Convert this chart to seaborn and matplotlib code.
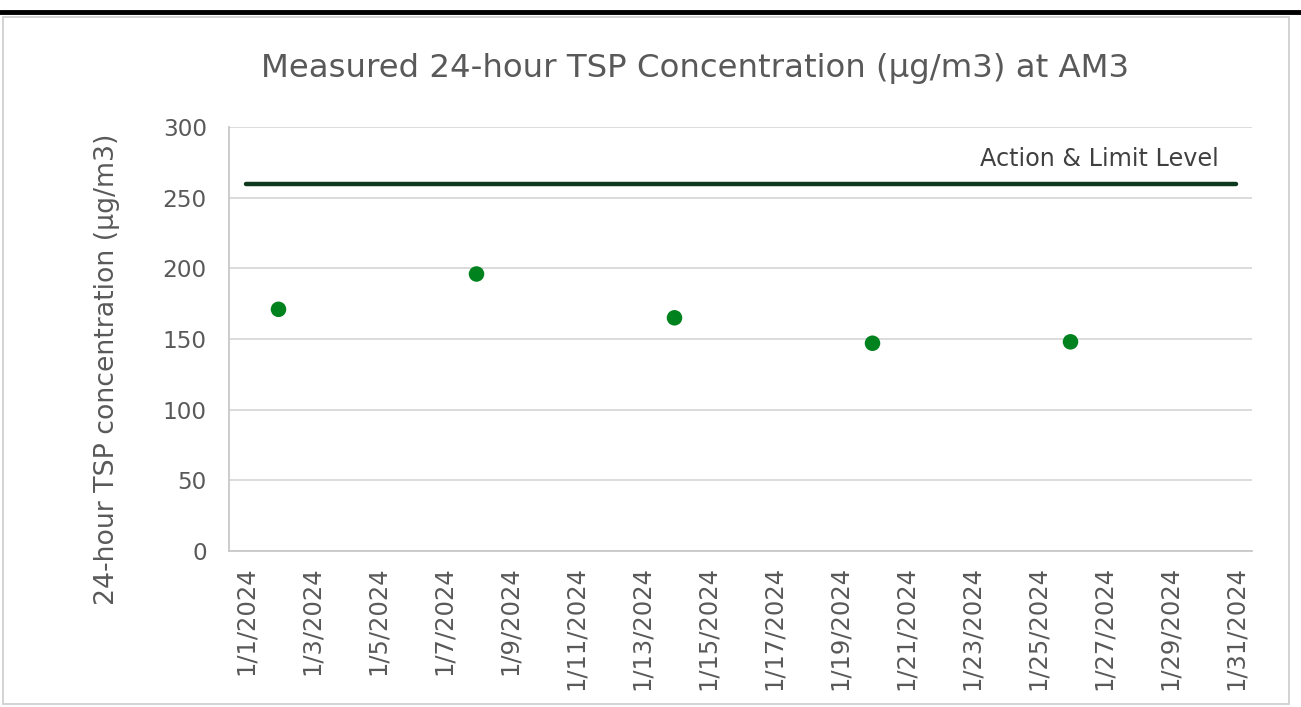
import matplotlib
matplotlib.use("Agg")
import matplotlib.pyplot as plt
from matplotlib.lines import Line2D
from matplotlib.patches import Rectangle
import seaborn as sns
import pandas as pd

# ---- data ----
sample_dates = ["2024-01-02", "2024-01-08", "2024-01-14", "2024-01-20", "2024-01-26"]
tsp_values = [171, 196, 165, 147, 148]
limit_dates = ["2024-01-01", "2024-01-31"]
limit_values = [260, 260]
limit_label = "Action & Limit Level"
title = "Measured 24-hour TSP Concentration (µg/m3) at AM3"
y_label = "24-hour TSP concentration (µg/m3)"
y_ticks = [0, 50, 100, 150, 200, 250, 300]
x_tick_dates = ["2024-01-01", "2024-01-03", "2024-01-05", "2024-01-07", "2024-01-09",
                "2024-01-11", "2024-01-13", "2024-01-15", "2024-01-17", "2024-01-19",
                "2024-01-21", "2024-01-23", "2024-01-25", "2024-01-27", "2024-01-29",
                "2024-01-31"]
x_tick_labels = ["1/1/2024", "1/3/2024", "1/5/2024", "1/7/2024", "1/9/2024",
                 "1/11/2024", "1/13/2024", "1/15/2024", "1/17/2024", "1/19/2024",
                 "1/21/2024", "1/23/2024", "1/25/2024", "1/27/2024", "1/29/2024",
                 "1/31/2024"]

df = pd.DataFrame({"date": pd.to_datetime(sample_dates), "tsp": tsp_values})
df_lim = pd.DataFrame({"date": pd.to_datetime(limit_dates), "lim": limit_values})

sns.set_theme(style="white")
plt.rcParams["font.family"] = ["DejaVu Sans"]
text_c = "#595959"

fig = plt.figure(figsize=(13.01, 7.07), dpi=100)
ax = fig.add_axes([229 / 1301, 1 - 551 / 707, 1023 / 1301, 424 / 707])

sns.lineplot(data=df_lim, x="date", y="lim", ax=ax, color="#0d3a1c", linewidth=3.2,
             solid_capstyle="round", zorder=3)
sns.scatterplot(data=df, x="date", y="tsp", ax=ax, color="#00821e", s=125,
                edgecolor="none", zorder=4)

ax.set_xlim(pd.Timestamp("2023-12-31 12:00"), pd.Timestamp("2024-01-31 12:00"))
ax.set_ylim(0, 300)
ax.set_yticks(y_ticks)
ax.set_xticks(pd.to_datetime(x_tick_dates))
ax.set_xticklabels(x_tick_labels, rotation=90)
ax.yaxis.grid(True, color="#d9d9d9", linewidth=1.3)
ax.set_axisbelow(True)
for s in ["top", "right"]:
    ax.spines[s].set_visible(False)
for s in ["left", "bottom"]:
    ax.spines[s].set_color("#c8c8c8")
    ax.spines[s].set_linewidth(1.3)
ax.tick_params(axis="both", length=0, colors=text_c)
ax.tick_params(axis="x", pad=11, labelsize=17.5)
ax.tick_params(axis="y", pad=16, labelsize=16.7)
ax.set_xlabel("")
ax.set_ylabel(y_label, fontsize=19.3, color=text_c)
ax.yaxis.set_label_coords(-0.107, 0.429)

ax.text(pd.Timestamp("2024-01-30 12:00"), 269, limit_label, ha="right", va="bottom",
        fontsize=17.2, color="#404040")

fig.text(695 / 1301, 1 - 68 / 707, title, ha="center", va="center", fontsize=23.3, color=text_c)

# decorations: chart frame and top rule
fig.patches.append(Rectangle((3 / 1301, 1 - 704 / 707), 1286 / 1301, 687 / 707,
                             transform=fig.transFigure, fill=False,
                             edgecolor="#d0d0d0", linewidth=1.3))
fig.lines.append(Line2D([0, 1], [1 - 12 / 707, 1 - 12 / 707], transform=fig.transFigure,
                        color="black", linewidth=3.5))

fig.savefig("out.png", dpi=100, facecolor="white")
